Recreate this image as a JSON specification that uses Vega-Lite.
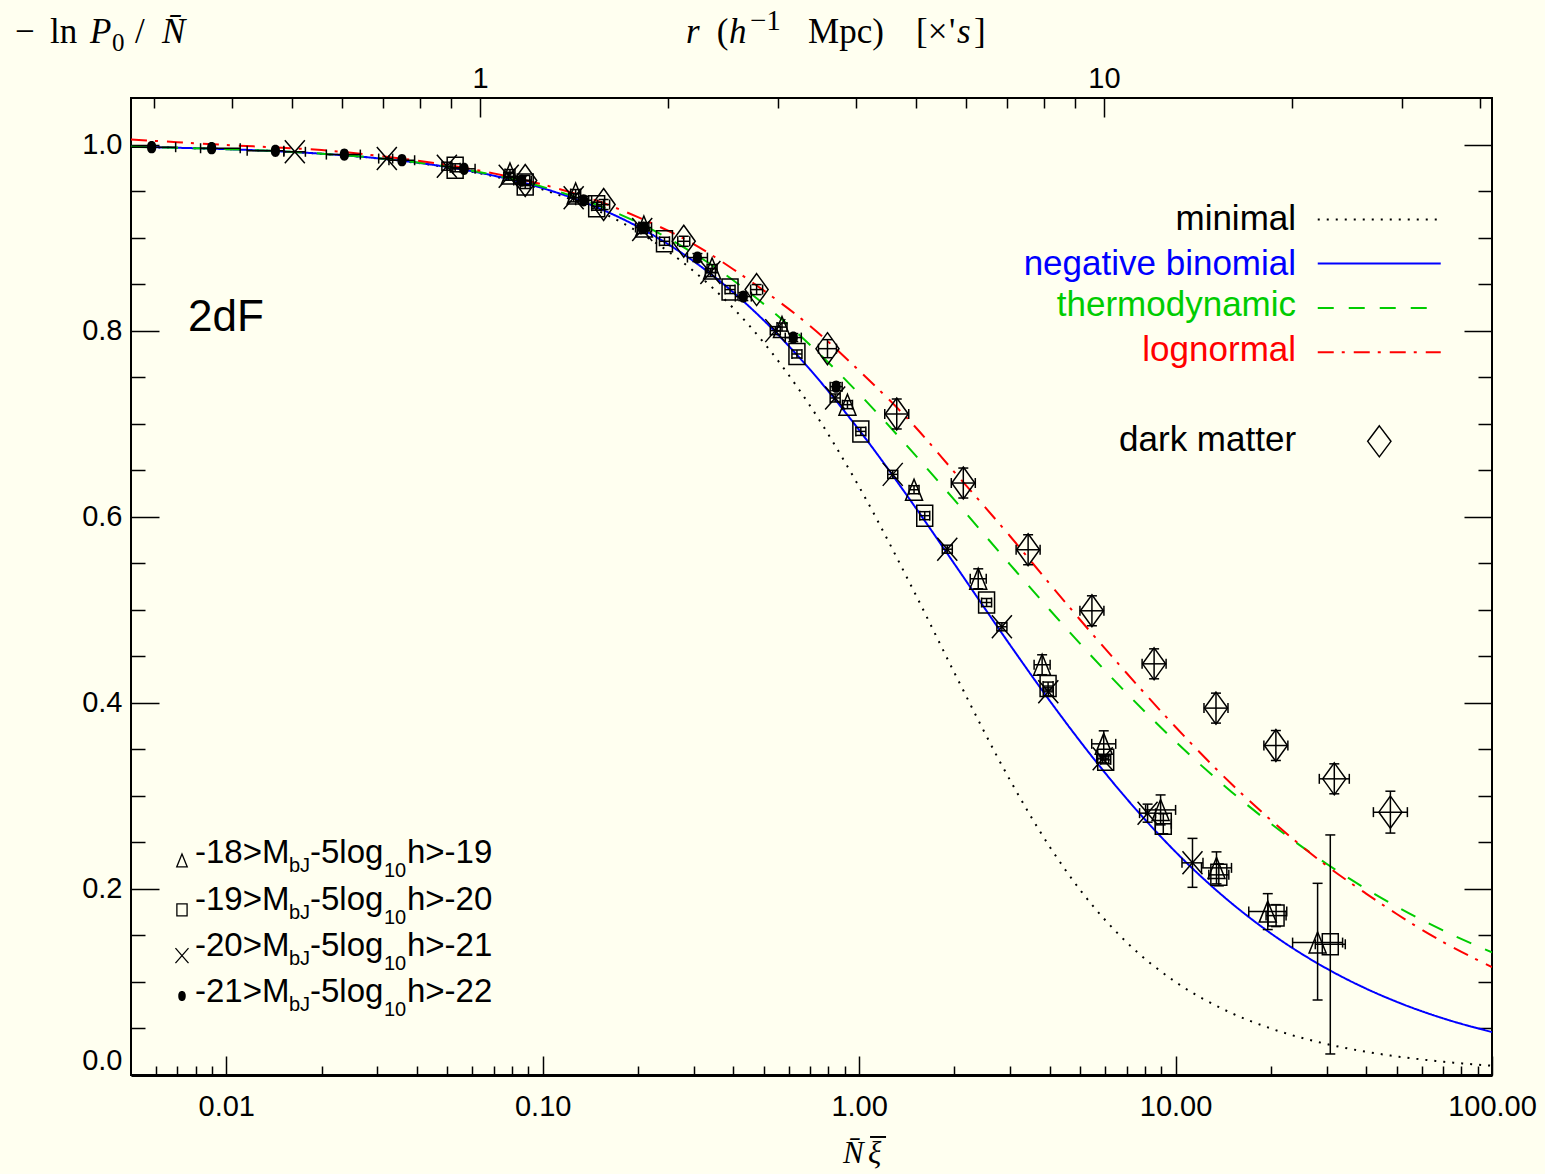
{
"$schema": "https://vega.github.io/schema/vega-lite/v6.json",
"width": 1361, "height": 977,
"autosize": {"type": "none"},
"padding": {"left": 131, "top": 98, "right": 53, "bottom": 99},
"background": "#fffff0",
"config": {"view": {"stroke": "black", "strokeWidth": 2}},
"resolve": {"scale": {"x": "independent", "y": "independent"}, "axis": {"x": "independent", "y": "independent"}},
"datasets": {
"ax": [{"v": 1}],
"cv": [
{"c":"minimal","x":0.005,"y":0.9975},{"c":"minimal","x":0.007,"y":0.99651},{"c":"minimal","x":0.01,"y":0.99502},{"c":"minimal","x":0.015,"y":0.99254},{"c":"minimal","x":0.02,"y":0.99007},{"c":"minimal","x":0.03,"y":0.98515},{"c":"minimal","x":0.05,"y":0.97541},{"c":"minimal","x":0.07,"y":0.9658},{"c":"minimal","x":0.1,"y":0.95163},{"c":"minimal","x":0.15,"y":0.92861},{"c":"minimal","x":0.2,"y":0.90635},{"c":"minimal","x":0.3,"y":0.86394},{"c":"minimal","x":0.4,"y":0.8242},{"c":"minimal","x":0.5,"y":0.78694},{"c":"minimal","x":0.7,"y":0.71916},{"c":"minimal","x":1,"y":0.63212},{"c":"minimal","x":1.5,"y":0.51791},{"c":"minimal","x":2,"y":0.43233},{"c":"minimal","x":3,"y":0.31674},{"c":"minimal","x":4,"y":0.24542},{"c":"minimal","x":5,"y":0.19865},{"c":"minimal","x":7,"y":0.14273},{"c":"minimal","x":10,"y":0.1},{"c":"minimal","x":15,"y":0.06667},{"c":"minimal","x":20,"y":0.05},{"c":"minimal","x":30,"y":0.03333},{"c":"minimal","x":40,"y":0.025},{"c":"minimal","x":50,"y":0.02},{"c":"minimal","x":70,"y":0.01429},{"c":"minimal","x":100,"y":0.01},
{"c":"negative binomial","x":0.005,"y":0.99751},{"c":"negative binomial","x":0.007,"y":0.99652},{"c":"negative binomial","x":0.01,"y":0.99503},{"c":"negative binomial","x":0.015,"y":0.99257},{"c":"negative binomial","x":0.02,"y":0.99013},{"c":"negative binomial","x":0.03,"y":0.9853},{"c":"negative binomial","x":0.05,"y":0.9758},{"c":"negative binomial","x":0.07,"y":0.96655},{"c":"negative binomial","x":0.1,"y":0.9531},{"c":"negative binomial","x":0.15,"y":0.93175},{"c":"negative binomial","x":0.2,"y":0.91161},{"c":"negative binomial","x":0.3,"y":0.87455},{"c":"negative binomial","x":0.4,"y":0.84118},{"c":"negative binomial","x":0.5,"y":0.81093},{"c":"negative binomial","x":0.7,"y":0.75804},{"c":"negative binomial","x":1,"y":0.69315},{"c":"negative binomial","x":1.5,"y":0.61086},{"c":"negative binomial","x":2,"y":0.54931},{"c":"negative binomial","x":3,"y":0.4621},{"c":"negative binomial","x":4,"y":0.40236},{"c":"negative binomial","x":5,"y":0.35835},{"c":"negative binomial","x":7,"y":0.29706},{"c":"negative binomial","x":10,"y":0.23979},{"c":"negative binomial","x":15,"y":0.18484},{"c":"negative binomial","x":20,"y":0.15223},{"c":"negative binomial","x":30,"y":0.11447},{"c":"negative binomial","x":40,"y":0.09284},{"c":"negative binomial","x":50,"y":0.07864},{"c":"negative binomial","x":70,"y":0.0609},{"c":"negative binomial","x":100,"y":0.04615},
{"c":"thermodynamic","x":0.005,"y":0.99752},{"c":"thermodynamic","x":0.007,"y":0.99652},{"c":"thermodynamic","x":0.01,"y":0.99505},{"c":"thermodynamic","x":0.015,"y":0.99261},{"c":"thermodynamic","x":0.02,"y":0.9902},{"c":"thermodynamic","x":0.03,"y":0.98543},{"c":"thermodynamic","x":0.05,"y":0.97618},{"c":"thermodynamic","x":0.07,"y":0.96725},{"c":"thermodynamic","x":0.1,"y":0.95445},{"c":"thermodynamic","x":0.15,"y":0.9345},{"c":"thermodynamic","x":0.2,"y":0.91608},{"c":"thermodynamic","x":0.3,"y":0.88304},{"c":"thermodynamic","x":0.4,"y":0.8541},{"c":"thermodynamic","x":0.5,"y":0.82843},{"c":"thermodynamic","x":0.7,"y":0.78456},{"c":"thermodynamic","x":1,"y":0.73205},{"c":"thermodynamic","x":1.5,"y":0.66667},{"c":"thermodynamic","x":2,"y":0.61803},{"c":"thermodynamic","x":3,"y":0.54858},{"c":"thermodynamic","x":4,"y":0.5},{"c":"thermodynamic","x":5,"y":0.46332},{"c":"thermodynamic","x":7,"y":0.41043},{"c":"thermodynamic","x":10,"y":0.35826},{"c":"thermodynamic","x":15,"y":0.30452},{"c":"thermodynamic","x":20,"y":0.27016},{"c":"thermodynamic","x":30,"y":0.22701},{"c":"thermodynamic","x":40,"y":0.2},{"c":"thermodynamic","x":50,"y":0.181},{"c":"thermodynamic","x":70,"y":0.15535},{"c":"thermodynamic","x":100,"y":0.13177},
{"c":"lognormal","x":0.005,"y":1.0054},{"c":"lognormal","x":0.007,"y":1.0025},{"c":"lognormal","x":0.01,"y":0.9995},{"c":"lognormal","x":0.015,"y":0.9965},{"c":"lognormal","x":0.02,"y":0.994},{"c":"lognormal","x":0.03,"y":0.988},{"c":"lognormal","x":0.05,"y":0.978},{"c":"lognormal","x":0.07,"y":0.969},{"c":"lognormal","x":0.1,"y":0.957},{"c":"lognormal","x":0.15,"y":0.939},{"c":"lognormal","x":0.2,"y":0.922},{"c":"lognormal","x":0.3,"y":0.893},{"c":"lognormal","x":0.4,"y":0.866},{"c":"lognormal","x":0.5,"y":0.843},{"c":"lognormal","x":0.7,"y":0.805},{"c":"lognormal","x":1,"y":0.757},{"c":"lognormal","x":1.5,"y":0.697},{"c":"lognormal","x":2,"y":0.648},{"c":"lognormal","x":3,"y":0.579},{"c":"lognormal","x":4,"y":0.528},{"c":"lognormal","x":5,"y":0.489},{"c":"lognormal","x":7,"y":0.432},{"c":"lognormal","x":10,"y":0.374},{"c":"lognormal","x":15,"y":0.313},{"c":"lognormal","x":20,"y":0.274},{"c":"lognormal","x":30,"y":0.225},{"c":"lognormal","x":40,"y":0.195},{"c":"lognormal","x":50,"y":0.173},{"c":"lognormal","x":70,"y":0.143},{"c":"lognormal","x":100,"y":0.116}
],
"pts": [
{"s":"dot","x":0.00581,"y":0.9971,"xl":0.0045,"xh":0.00692},
{"s":"dot","x":0.00899,"y":0.996,"xl":0.008295,"xh":0.011069},
{"s":"dot","x":0.0143,"y":0.9932,"xl":0.011644,"xh":0.015206},
{"s":"dot","x":0.02361,"y":0.9892,"xl":0.020718,"xh":0.026527},
{"s":"dot","x":0.03591,"y":0.9831,"xl":0.032669,"xh":0.03938},
{"s":"dot","x":0.05644,"y":0.9739,"xl":0.052006,"xh":0.061143},
{"s":"dot","x":0.08584,"y":0.9613,"xl":0.08098,"xh":0.09099,"yl":0.957,"yh":0.9656},
{"s":"dot","x":0.1347,"y":0.9401,"xl":0.1271,"xh":0.1428,"yl":0.9358,"yh":0.9444},
{"s":"dot","x":0.2083,"y":0.9108,"xl":0.1965,"xh":0.2208,"yl":0.9065,"yh":0.9151},
{"s":"dot","x":0.3083,"y":0.8785,"xl":0.2867,"xh":0.3316,"yl":0.8742,"yh":0.8828},
{"s":"dot","x":0.4306,"y":0.8366,"xl":0.4062,"xh":0.4564,"yl":0.8323,"yh":0.8409},
{"s":"dot","x":0.6193,"y":0.7925,"xl":0.5842,"xh":0.6565,"yl":0.7882,"yh":0.7968},
{"s":"dot","x":0.8461,"y":0.7398,"xl":0.81,"xh":0.8838,"yl":0.7355,"yh":0.7441},
{"s":"x","x":0.01647,"y":0.9922,"xl":0.015206,"xh":0.017786},
{"s":"x","x":0.03217,"y":0.9849,"xl":0.030318,"xh":0.033563},
{"s":"x","x":0.0498,"y":0.9767,"xl":0.04802,"xh":0.05165,"yl":0.9724,"yh":0.981},
{"s":"x","x":0.07811,"y":0.9659,"xl":0.07532,"xh":0.08101,"yl":0.9616,"yh":0.9702},
{"s":"x","x":0.1253,"y":0.9427,"xl":0.1208,"xh":0.1299,"yl":0.9384,"yh":0.947},
{"s":"x","x":0.2063,"y":0.9086,"xl":0.1989,"xh":0.214,"yl":0.9043,"yh":0.9129},
{"s":"x","x":0.3388,"y":0.8624,"xl":0.3267,"xh":0.3514,"yl":0.8581,"yh":0.8667},
{"s":"x","x":0.5433,"y":0.8,"xl":0.5239,"xh":0.5635,"yl":0.7957,"yh":0.8043},
{"s":"x","x":0.84,"y":0.7276,"xl":0.81,"xh":0.8712,"yl":0.7233,"yh":0.7319},
{"s":"x","x":1.2772,"y":0.6455,"xl":1.2315,"xh":1.3246,"yl":0.6412,"yh":0.6498},
{"s":"x","x":1.8992,"y":0.5651,"xl":1.8313,"xh":1.9697,"yl":0.5608,"yh":0.5694},
{"s":"x","x":2.826,"y":0.4817,"xl":2.725,"xh":2.931,"yl":0.4774,"yh":0.486},
{"s":"x","x":3.961,"y":0.4118,"xl":3.819,"xh":4.108,"yl":0.4075,"yh":0.4161},
{"s":"x","x":5.885,"y":0.3398,"xl":5.634,"xh":6.147,"yl":0.3355,"yh":0.3441},
{"s":"x","x":8.158,"y":0.2814,"xl":7.696,"xh":8.647,"yl":0.2717,"yh":0.2911},
{"s":"x","x":11.31,"y":0.228,"xl":10.478,"xh":12.208,"yl":0.2017,"yh":0.2543},
{"s":"sq","x":0.05289,"y":0.975,"xl":0.051,"xh":0.05485,"yl":0.9707,"yh":0.9793},
{"s":"sq","x":0.08806,"y":0.957,"xl":0.08491,"xh":0.09133,"yl":0.9527,"yh":0.9613},
{"s":"sq","x":0.1481,"y":0.9337,"xl":0.1428,"xh":0.1536,"yl":0.9294,"yh":0.938},
{"s":"sq","x":0.2426,"y":0.896,"xl":0.2339,"xh":0.2516,"yl":0.8917,"yh":0.9003},
{"s":"sq","x":0.3909,"y":0.8441,"xl":0.3769,"xh":0.4054,"yl":0.8398,"yh":0.8484},
{"s":"sq","x":0.636,"y":0.7749,"xl":0.6132,"xh":0.6596,"yl":0.7706,"yh":0.7792},
{"s":"sq","x":1.0125,"y":0.6917,"xl":0.9763,"xh":1.0501,"yl":0.6874,"yh":0.696},
{"s":"sq","x":1.6118,"y":0.6011,"xl":1.5541,"xh":1.6716,"yl":0.5968,"yh":0.6054},
{"s":"sq","x":2.528,"y":0.5078,"xl":2.4376,"xh":2.6218,"yl":0.5035,"yh":0.5121},
{"s":"sq","x":3.955,"y":0.418,"xl":3.8135,"xh":4.1017,"yl":0.4137,"yh":0.4223},
{"s":"sq","x":6.015,"y":0.3387,"xl":5.7998,"xh":6.2382,"yl":0.3344,"yh":0.343},
{"s":"sq","x":9.146,"y":0.27,"xl":8.628,"xh":9.695,"yl":0.2593,"yh":0.2807},
{"s":"sq","x":13.7,"y":0.2151,"xl":12.738,"xh":14.734,"yl":0.2033,"yh":0.2269},
{"s":"sq","x":20.78,"y":0.1713,"xl":19.321,"xh":22.349,"yl":0.1595,"yh":0.1831},
{"s":"sq","x":30.83,"y":0.1405,"xl":27.643,"xh":34.385,"yl":0.0226,"yh":0.258},
{"s":"tri","x":0.07881,"y":0.9688,"xl":0.07599,"xh":0.08173,"yl":0.9645,"yh":0.9731},
{"s":"tri","x":0.1271,"y":0.9473,"xl":0.12255,"xh":0.13182,"yl":0.943,"yh":0.9516},
{"s":"tri","x":0.2088,"y":0.9118,"xl":0.20133,"xh":0.21655,"yl":0.9075,"yh":0.9161},
{"s":"tri","x":0.343,"y":0.8667,"xl":0.33073,"xh":0.35573,"yl":0.8624,"yh":0.871},
{"s":"tri","x":0.5705,"y":0.8038,"xl":0.55009,"xh":0.59167,"yl":0.7995,"yh":0.8081},
{"s":"tri","x":0.9186,"y":0.7204,"xl":0.88574,"xh":0.95268,"yl":0.7161,"yh":0.7247},
{"s":"tri","x":1.4912,"y":0.629,"xl":1.43786,"xh":1.54652,"yl":0.6247,"yh":0.6333},
{"s":"tri","x":2.379,"y":0.5333,"xl":2.2443,"xh":2.5217,"yl":0.5226,"yh":0.544},
{"s":"tri","x":3.787,"y":0.4409,"xl":3.5726,"xh":4.0142,"yl":0.4302,"yh":0.4516},
{"s":"tri","x":5.929,"y":0.3559,"xl":5.4335,"xh":6.4697,"yl":0.3419,"yh":0.3699},
{"s":"tri","x":8.968,"y":0.2849,"xl":8.041,"xh":10.002,"yl":0.2688,"yh":0.301},
{"s":"tri","x":13.47,"y":0.2226,"xl":12.077,"xh":15.023,"yl":0.2054,"yh":0.2398},
{"s":"tri","x":19.56,"y":0.1756,"xl":17.035,"xh":22.459,"yl":0.1563,"yh":0.1949},
{"s":"tri","x":28.11,"y":0.1423,"xl":23.435,"xh":33.718,"yl":0.0806,"yh":0.206},
{"s":"dia","x":0.08806,"y":0.9613,"xl":0.0843,"xh":0.092,"yl":0.9559,"yh":0.9667},
{"s":"dia","x":0.1558,"y":0.9355,"xl":0.14915,"xh":0.16275,"yl":0.9301,"yh":0.9409},
{"s":"dia","x":0.2791,"y":0.896,"xl":0.26719,"xh":0.29155,"yl":0.8906,"yh":0.9014},
{"s":"dia","x":0.4743,"y":0.8441,"xl":0.45405,"xh":0.49546,"yl":0.8387,"yh":0.8495},
{"s":"dia","x":0.7943,"y":0.7806,"xl":0.74394,"xh":0.84807,"yl":0.7709,"yh":0.7903},
{"s":"dia","x":1.3149,"y":0.7104,"xl":1.205,"xh":1.4348,"yl":0.6943,"yh":0.7265},
{"s":"dia","x":2.134,"y":0.6362,"xl":1.9556,"xh":2.3286,"yl":0.6201,"yh":0.6523},
{"s":"dia","x":3.42,"y":0.5645,"xl":3.1342,"xh":3.7319,"yl":0.5484,"yh":0.5806},
{"s":"dia","x":5.441,"y":0.4989,"xl":4.9863,"xh":5.9372,"yl":0.4828,"yh":0.515},
{"s":"dia","x":8.554,"y":0.4419,"xl":7.8391,"xh":9.3341,"yl":0.4258,"yh":0.458},
{"s":"dia","x":13.42,"y":0.3943,"xl":12.298,"xh":14.644,"yl":0.3782,"yh":0.4104},
{"s":"dia","x":20.75,"y":0.3541,"xl":19.016,"xh":22.642,"yl":0.338,"yh":0.3702},
{"s":"dia","x":31.74,"y":0.3183,"xl":28.459,"xh":35.4,"yl":0.3022,"yh":0.3344},
{"s":"dia","x":47.74,"y":0.2825,"xl":42.188,"xh":54.023,"yl":0.26,"yh":0.305}
],
"leg1": [
{"c":"minimal","x2":28.14,"x3":68.87,"ly":0.9194},
{"c":"negative binomial","x2":28.14,"x3":68.87,"ly":0.872},
{"c":"thermodynamic","x2":28.14,"x3":68.87,"ly":0.8244},
{"c":"lognormal","x2":28.14,"x3":68.87,"ly":0.7767}
],
"leg2": [
{"s":"tri","a":"-18>M","b":"h>-19","sx":0.007246,"sy":0.2306,"x":0.007963,"y":0.2276},
{"s":"sq","a":"-19>M","b":"h>-20","sx":0.007246,"sy":0.1774,"x":0.007963,"y":0.1774},
{"s":"x","a":"-20>M","b":"h>-21","sx":0.007246,"sy":0.1283,"x":0.007963,"y":0.128},
{"s":"dot","a":"-21>M","b":"h>-22","sx":0.007246,"sy":0.0849,"x":0.007963,"y":0.0788}
]
},
"layer": [
{"data": {"name": "ax"}, "mark": {"type": "point", "opacity": 0},
 "encoding": {"x": {"field": "v", "type": "quantitative", "scale": {"type": "log", "domain": [0.005, 100], "nice": false},
  "axis": {"orient": "bottom", "values": [0.01, 0.1, 1, 10, 100], "format": ".2f", "ticks": false, "domain": true, "domainColor": "black", "domainWidth": 3, "labelFont": "Liberation Sans", "labelFontSize": 29, "labelColor": "black", "labelPadding": 17, "labelFlush": false, "labelOverlap": false, "grid": false, "title": null}}}},
{"data": {"name": "ax"}, "mark": {"type": "point", "opacity": 0},
 "encoding": {"x": {"field": "v", "type": "quantitative", "scale": {"type": "log", "domain": [0.005, 100], "nice": false},
  "axis": {"orient": "bottom", "values": [0.01, 0.1, 1, 10, 100], "labels": false, "domain": false, "ticks": true, "tickSize": -19, "tickWidth": 1.5, "tickColor": "black", "grid": false, "title": null}}}},
{"data": {"name": "ax"}, "mark": {"type": "point", "opacity": 0},
 "encoding": {"x": {"field": "v", "type": "quantitative", "scale": {"type": "log", "domain": [0.005, 100], "nice": false},
  "axis": {"orient": "bottom", "values": [0.006,0.007,0.008,0.009,0.02,0.03,0.04,0.05,0.06,0.07,0.08,0.09,0.2,0.3,0.4,0.5,0.6,0.7,0.8,0.9,2,3,4,5,6,7,8,9,20,30,40,50,60,70,80,90], "labels": false, "domain": false, "ticks": true, "tickSize": -9, "tickWidth": 1.5, "tickColor": "black", "grid": false, "title": null}}}},
{"data": {"name": "ax"}, "mark": {"type": "point", "opacity": 0},
 "encoding": {"x": {"field": "v", "type": "quantitative", "scale": {"type": "log", "domain": [0.2759, 41.86], "nice": false},
  "axis": {"orient": "top", "values": [1, 10], "format": "d", "ticks": false, "domain": false, "labelFont": "Liberation Sans", "labelFontSize": 29, "labelColor": "black", "labelPadding": 11, "labelBaseline": "alphabetic", "labelFlush": false, "labelOverlap": false, "grid": false, "title": null}}}},
{"data": {"name": "ax"}, "mark": {"type": "point", "opacity": 0},
 "encoding": {"x": {"field": "v", "type": "quantitative", "scale": {"type": "log", "domain": [0.2759, 41.86], "nice": false},
  "axis": {"orient": "top", "values": [1, 10], "labels": false, "domain": false, "ticks": true, "tickSize": -19, "tickWidth": 1.5, "tickColor": "black", "grid": false, "title": null}}}},
{"data": {"name": "ax"}, "mark": {"type": "point", "opacity": 0},
 "encoding": {"x": {"field": "v", "type": "quantitative", "scale": {"type": "log", "domain": [0.2759, 41.86], "nice": false},
  "axis": {"orient": "top", "values": [0.3,0.4,0.5,0.6,0.7,0.8,0.9,2,3,4,5,6,7,8,9,20,30,40], "labels": false, "domain": false, "ticks": true, "tickSize": -10, "tickWidth": 1.5, "tickColor": "black", "grid": false, "title": null}}}},
{"data": {"name": "ax"}, "mark": {"type": "point", "opacity": 0},
 "encoding": {"y": {"field": "v", "type": "quantitative", "scale": {"domain": [0, 1.05], "nice": false, "zero": false},
  "axis": {"orient": "left", "values": [0, 0.2, 0.4, 0.6, 0.8, 1], "format": ".1f", "ticks": false, "domain": false, "labelFont": "Liberation Sans", "labelFontSize": 29, "labelColor": "black", "labelPadding": 9, "labelFlush": true, "labelOverlap": false, "grid": false, "title": null}}}},
{"data": {"name": "ax"}, "mark": {"type": "point", "opacity": 0},
 "encoding": {"y": {"field": "v", "type": "quantitative", "scale": {"domain": [0, 1.05], "nice": false, "zero": false},
  "axis": {"orient": "left", "values": [0, 0.2, 0.4, 0.6, 0.8, 1], "labels": false, "domain": false, "ticks": true, "tickSize": -28, "tickWidth": 1.5, "tickColor": "black", "grid": false, "title": null}}}},
{"data": {"name": "ax"}, "mark": {"type": "point", "opacity": 0},
 "encoding": {"y": {"field": "v", "type": "quantitative", "scale": {"domain": [0, 1.05], "nice": false, "zero": false},
  "axis": {"orient": "left", "values": [0.05,0.1,0.15,0.25,0.3,0.35,0.45,0.5,0.55,0.65,0.7,0.75,0.85,0.9,0.95], "labels": false, "domain": false, "ticks": true, "tickSize": -14, "tickWidth": 1.5, "tickColor": "black", "grid": false, "title": null}}}},
{"data": {"name": "ax"}, "mark": {"type": "point", "opacity": 0},
 "encoding": {"y": {"field": "v", "type": "quantitative", "scale": {"domain": [0, 1.05], "nice": false, "zero": false},
  "axis": {"orient": "right", "values": [0, 0.2, 0.4, 0.6, 0.8, 1], "labels": false, "domain": false, "ticks": true, "tickSize": -28, "tickWidth": 1.5, "tickColor": "black", "grid": false, "title": null}}}},
{"data": {"name": "ax"}, "mark": {"type": "point", "opacity": 0},
 "encoding": {"y": {"field": "v", "type": "quantitative", "scale": {"domain": [0, 1.05], "nice": false, "zero": false},
  "axis": {"orient": "right", "values": [0.05,0.1,0.15,0.25,0.3,0.35,0.45,0.5,0.55,0.65,0.7,0.75,0.85,0.9,0.95], "labels": false, "domain": false, "ticks": true, "tickSize": -14, "tickWidth": 1.5, "tickColor": "black", "grid": false, "title": null}}}},

{"data": {"name": "cv"}, "mark": {"type": "line", "clip": true, "interpolate": "monotone", "strokeWidth": 2},
 "encoding": {
  "x": {"field": "x", "type": "quantitative", "scale": {"type": "log", "domain": [0.005, 100], "nice": false}, "axis": null},
  "y": {"field": "y", "type": "quantitative", "scale": {"domain": [0, 1.05], "nice": false, "zero": false}, "axis": null},
  "color": {"field": "c", "type": "nominal", "scale": {"domain": ["minimal", "negative binomial", "thermodynamic", "lognormal", "dark matter"], "range": ["#000000", "#0000ff", "#00cc00", "#ff0000", "#000000"]}, "legend": null},
  "strokeDash": {"field": "c", "type": "nominal", "scale": {"domain": ["minimal", "negative binomial", "thermodynamic", "lognormal"], "range": [[2, 7], [1, 0], [16, 15], [16, 8, 3, 9]]}, "legend": null}}},

{"data": {"name": "pts"}, "transform": [{"filter": "isValid(datum.xl)"}], "mark": {"type": "rule", "clip": true, "color": "black", "strokeWidth": 1.5},
 "encoding": {"x": {"field": "xl", "type": "quantitative", "scale": {"type": "log", "domain": [0.005, 100], "nice": false}, "axis": null}, "x2": {"field": "xh"},
  "y": {"field": "y", "type": "quantitative", "scale": {"domain": [0, 1.05], "nice": false, "zero": false}, "axis": null}}},
{"data": {"name": "pts"}, "transform": [{"filter": "isValid(datum.xl)"}], "mark": {"type": "tick", "orient": "vertical", "clip": true, "color": "black", "opacity": 1, "size": 10, "thickness": 1.5},
 "encoding": {"x": {"field": "xl", "type": "quantitative", "scale": {"type": "log", "domain": [0.005, 100], "nice": false}, "axis": null},
  "y": {"field": "y", "type": "quantitative", "scale": {"domain": [0, 1.05], "nice": false, "zero": false}, "axis": null}}},
{"data": {"name": "pts"}, "transform": [{"filter": "isValid(datum.xh)"}], "mark": {"type": "tick", "orient": "vertical", "clip": true, "color": "black", "opacity": 1, "size": 10, "thickness": 1.5},
 "encoding": {"x": {"field": "xh", "type": "quantitative", "scale": {"type": "log", "domain": [0.005, 100], "nice": false}, "axis": null},
  "y": {"field": "y", "type": "quantitative", "scale": {"domain": [0, 1.05], "nice": false, "zero": false}, "axis": null}}},
{"data": {"name": "pts"}, "transform": [{"filter": "isValid(datum.yl)"}], "mark": {"type": "rule", "clip": true, "color": "black", "strokeWidth": 1.5},
 "encoding": {"x": {"field": "x", "type": "quantitative", "scale": {"type": "log", "domain": [0.005, 100], "nice": false}, "axis": null},
  "y": {"field": "yl", "type": "quantitative", "scale": {"domain": [0, 1.05], "nice": false, "zero": false}, "axis": null}, "y2": {"field": "yh"}}},
{"data": {"name": "pts"}, "transform": [{"filter": "isValid(datum.yl)"}], "mark": {"type": "tick", "orient": "horizontal", "clip": true, "color": "black", "opacity": 1, "size": 10, "thickness": 1.5},
 "encoding": {"x": {"field": "x", "type": "quantitative", "scale": {"type": "log", "domain": [0.005, 100], "nice": false}, "axis": null},
  "y": {"field": "yl", "type": "quantitative", "scale": {"domain": [0, 1.05], "nice": false, "zero": false}, "axis": null}}},
{"data": {"name": "pts"}, "transform": [{"filter": "isValid(datum.yh)"}], "mark": {"type": "tick", "orient": "horizontal", "clip": true, "color": "black", "opacity": 1, "size": 10, "thickness": 1.5},
 "encoding": {"x": {"field": "x", "type": "quantitative", "scale": {"type": "log", "domain": [0.005, 100], "nice": false}, "axis": null},
  "y": {"field": "yh", "type": "quantitative", "scale": {"domain": [0, 1.05], "nice": false, "zero": false}, "axis": null}}},

{"data": {"name": "pts"}, "transform": [{"filter": "datum.s == 'tri'"}], "mark": {"type": "point", "shape": "M0,-1L0.81,1L-0.81,1Z", "filled": false, "color": "black", "opacity": 1, "strokeWidth": 1.5, "size": 441, "clip": true},
 "encoding": {"x": {"field": "x", "type": "quantitative", "scale": {"type": "log", "domain": [0.005, 100], "nice": false}, "axis": null},
  "y": {"field": "y", "type": "quantitative", "scale": {"domain": [0, 1.05], "nice": false, "zero": false}, "axis": null}}},
{"data": {"name": "pts"}, "transform": [{"filter": "datum.s == 'sq'"}], "mark": {"type": "point", "shape": "M-0.76,-1L0.76,-1L0.76,1L-0.76,1Z", "filled": false, "color": "black", "opacity": 1, "strokeWidth": 1.5, "size": 441, "clip": true},
 "encoding": {"x": {"field": "x", "type": "quantitative", "scale": {"type": "log", "domain": [0.005, 100], "nice": false}, "axis": null},
  "y": {"field": "y", "type": "quantitative", "scale": {"domain": [0, 1.05], "nice": false, "zero": false}, "axis": null}}},
{"data": {"name": "pts"}, "transform": [{"filter": "datum.s == 'x'"}], "mark": {"type": "point", "shape": "M-0.87,-1L0.87,1M0.87,-1L-0.87,1", "filled": false, "color": "black", "opacity": 1, "strokeWidth": 1.5, "size": 529, "clip": true},
 "encoding": {"x": {"field": "x", "type": "quantitative", "scale": {"type": "log", "domain": [0.005, 100], "nice": false}, "axis": null},
  "y": {"field": "y", "type": "quantitative", "scale": {"domain": [0, 1.05], "nice": false, "zero": false}, "axis": null}}},
{"data": {"name": "pts"}, "transform": [{"filter": "datum.s == 'dot'"}], "mark": {"type": "point", "shape": "M0,-1C0.55,-1,0.75,-0.55,0.75,0C0.75,0.55,0.55,1,0,1C-0.55,1,-0.75,0.55,-0.75,0C-0.75,-0.55,-0.55,-1,0,-1Z", "filled": true, "color": "black", "opacity": 1, "size": 150, "clip": true},
 "encoding": {"x": {"field": "x", "type": "quantitative", "scale": {"type": "log", "domain": [0.005, 100], "nice": false}, "axis": null},
  "y": {"field": "y", "type": "quantitative", "scale": {"domain": [0, 1.05], "nice": false, "zero": false}, "axis": null}}},
{"data": {"name": "pts"}, "transform": [{"filter": "datum.s == 'dia'"}], "mark": {"type": "point", "shape": "M0,-1L0.72,0L0,1L-0.72,0Z", "filled": false, "color": "black", "opacity": 1, "strokeWidth": 1.5, "size": 1024, "clip": true},
 "encoding": {"x": {"field": "x", "type": "quantitative", "scale": {"type": "log", "domain": [0.005, 100], "nice": false}, "axis": null},
  "y": {"field": "y", "type": "quantitative", "scale": {"domain": [0, 1.05], "nice": false, "zero": false}, "axis": null}}},

{"data": {"name": "leg1"}, "mark": {"type": "rule", "strokeWidth": 2},
 "encoding": {"x": {"field": "x2", "type": "quantitative", "scale": {"type": "log", "domain": [0.005, 100], "nice": false}, "axis": null}, "x2": {"field": "x3"},
  "y": {"field": "ly", "type": "quantitative", "scale": {"domain": [0, 1.05], "nice": false, "zero": false}, "axis": null},
  "color": {"field": "c", "type": "nominal", "scale": {"domain": ["minimal", "negative binomial", "thermodynamic", "lognormal", "dark matter"], "range": ["#000000", "#0000ff", "#00cc00", "#ff0000", "#000000"]}, "legend": null},
  "strokeDash": {"field": "c", "type": "nominal", "scale": {"domain": ["minimal", "negative binomial", "thermodynamic", "lognormal"], "range": [[2, 7], [1, 0], [16, 15], [16, 8, 3, 9]]}, "legend": null}}},
{"data": {"values": [
  {"c":"minimal","x":24.03,"y":0.9086},{"c":"negative binomial","x":24.03,"y":0.8602},{"c":"thermodynamic","x":24.03,"y":0.8154},{"c":"lognormal","x":24.03,"y":0.767},{"c":"dark matter","x":24.03,"y":0.6702}]},
 "mark": {"type": "text", "align": "right", "baseline": "alphabetic", "font": "Liberation Sans", "fontSize": 35},
 "encoding": {"x": {"field": "x", "type": "quantitative", "scale": {"type": "log", "domain": [0.005, 100], "nice": false}, "axis": null},
  "y": {"field": "y", "type": "quantitative", "scale": {"domain": [0, 1.05], "nice": false, "zero": false}, "axis": null},
  "text": {"field": "c"},
  "color": {"field": "c", "type": "nominal", "scale": {"domain": ["minimal", "negative binomial", "thermodynamic", "lognormal", "dark matter"], "range": ["#000000", "#0000ff", "#00cc00", "#ff0000", "#000000"]}, "legend": null}}},
{"data": {"values": [{"x": 44.05, "y": 0.681}]}, "mark": {"type": "point", "shape": "M0,-1L0.75,0L0,1L-0.75,0Z", "filled": false, "color": "black", "opacity": 1, "strokeWidth": 1.5, "size": 961},
 "encoding": {"x": {"field": "x", "type": "quantitative", "scale": {"type": "log", "domain": [0.005, 100], "nice": false}, "axis": null},
  "y": {"field": "y", "type": "quantitative", "scale": {"domain": [0, 1.05], "nice": false, "zero": false}, "axis": null}}},

{"data": {"name": "leg2"}, "transform": [{"filter": "datum.s == 'tri'"}], "mark": {"type": "point", "shape": "M0,-1L0.81,1L-0.81,1Z", "filled": false, "color": "black", "opacity": 1, "strokeWidth": 1.3, "size": 169},
 "encoding": {"x": {"field": "sx", "type": "quantitative", "scale": {"type": "log", "domain": [0.005, 100], "nice": false}, "axis": null},
  "y": {"field": "sy", "type": "quantitative", "scale": {"domain": [0, 1.05], "nice": false, "zero": false}, "axis": null}}},
{"data": {"name": "leg2"}, "transform": [{"filter": "datum.s == 'sq'"}], "mark": {"type": "point", "shape": "M-0.85,-1L0.85,-1L0.85,1L-0.85,1Z", "filled": false, "color": "black", "opacity": 1, "strokeWidth": 1.3, "size": 144},
 "encoding": {"x": {"field": "sx", "type": "quantitative", "scale": {"type": "log", "domain": [0.005, 100], "nice": false}, "axis": null},
  "y": {"field": "sy", "type": "quantitative", "scale": {"domain": [0, 1.05], "nice": false, "zero": false}, "axis": null}}},
{"data": {"name": "leg2"}, "transform": [{"filter": "datum.s == 'x'"}], "mark": {"type": "point", "shape": "M-0.87,-1L0.87,1M0.87,-1L-0.87,1", "filled": false, "color": "black", "opacity": 1, "strokeWidth": 1.3, "size": 225},
 "encoding": {"x": {"field": "sx", "type": "quantitative", "scale": {"type": "log", "domain": [0.005, 100], "nice": false}, "axis": null},
  "y": {"field": "sy", "type": "quantitative", "scale": {"domain": [0, 1.05], "nice": false, "zero": false}, "axis": null}}},
{"data": {"name": "leg2"}, "transform": [{"filter": "datum.s == 'dot'"}], "mark": {"type": "point", "shape": "M0,-1C0.55,-1,0.75,-0.55,0.75,0C0.75,0.55,0.55,1,0,1C-0.55,1,-0.75,0.55,-0.75,0C-0.75,-0.55,-0.55,-1,0,-1Z", "filled": true, "color": "black", "opacity": 1, "size": 100},
 "encoding": {"x": {"field": "sx", "type": "quantitative", "scale": {"type": "log", "domain": [0.005, 100], "nice": false}, "axis": null},
  "y": {"field": "sy", "type": "quantitative", "scale": {"domain": [0, 1.05], "nice": false, "zero": false}, "axis": null}}},
{"data": {"name": "leg2"}, "mark": {"type": "text", "align": "left", "baseline": "alphabetic", "font": "Liberation Sans", "fontSize": 33, "color": "black"},
 "encoding": {"x": {"field": "x", "type": "quantitative", "scale": {"type": "log", "domain": [0.005, 100], "nice": false}, "axis": null},
  "y": {"field": "y", "type": "quantitative", "scale": {"domain": [0, 1.05], "nice": false, "zero": false}, "axis": null}, "text": {"field": "a"}}},
{"data": {"name": "leg2"}, "mark": {"type": "text", "align": "left", "baseline": "alphabetic", "font": "Liberation Sans", "fontSize": 20, "color": "black", "dx": 94, "dy": 9},
 "encoding": {"x": {"field": "x", "type": "quantitative", "scale": {"type": "log", "domain": [0.005, 100], "nice": false}, "axis": null},
  "y": {"field": "y", "type": "quantitative", "scale": {"domain": [0, 1.05], "nice": false, "zero": false}, "axis": null}, "text": {"value": "bJ"}}},
{"data": {"name": "leg2"}, "mark": {"type": "text", "align": "left", "baseline": "alphabetic", "font": "Liberation Sans", "fontSize": 33, "color": "black", "dx": 115},
 "encoding": {"x": {"field": "x", "type": "quantitative", "scale": {"type": "log", "domain": [0.005, 100], "nice": false}, "axis": null},
  "y": {"field": "y", "type": "quantitative", "scale": {"domain": [0, 1.05], "nice": false, "zero": false}, "axis": null}, "text": {"value": "-5log"}}},
{"data": {"name": "leg2"}, "mark": {"type": "text", "align": "left", "baseline": "alphabetic", "font": "Liberation Sans", "fontSize": 20, "color": "black", "dx": 189, "dy": 14},
 "encoding": {"x": {"field": "x", "type": "quantitative", "scale": {"type": "log", "domain": [0.005, 100], "nice": false}, "axis": null},
  "y": {"field": "y", "type": "quantitative", "scale": {"domain": [0, 1.05], "nice": false, "zero": false}, "axis": null}, "text": {"value": "10"}}},
{"data": {"name": "leg2"}, "mark": {"type": "text", "align": "left", "baseline": "alphabetic", "font": "Liberation Sans", "fontSize": 33, "color": "black", "dx": 212},
 "encoding": {"x": {"field": "x", "type": "quantitative", "scale": {"type": "log", "domain": [0.005, 100], "nice": false}, "axis": null},
  "y": {"field": "y", "type": "quantitative", "scale": {"domain": [0, 1.05], "nice": false, "zero": false}, "axis": null}, "text": {"field": "b"}}},

{"data": {"values": [{"t": "2dF", "x": 0.007569, "y": 0.8}]}, "mark": {"type": "text", "align": "left", "baseline": "alphabetic", "font": "Liberation Sans", "fontSize": 44, "color": "black"},
 "encoding": {"x": {"field": "x", "type": "quantitative", "scale": {"type": "log", "domain": [0.005, 100], "nice": false}, "axis": null},
  "y": {"field": "y", "type": "quantitative", "scale": {"domain": [0, 1.05], "nice": false, "zero": false}, "axis": null}, "text": {"field": "t"}}},

{"data": {"values": [
  {"t": "−", "x": 0.00215, "y": 1.1094}, {"t": "ln", "x": 0.002773, "y": 1.1094}, {"t": "/", "x": 0.005149, "y": 1.1094},
  {"t": "(", "x": 0.355, "y": 1.1094}, {"t": "Mpc)", "x": 0.6894, "y": 1.1094}, {"t": "[×", "x": 1.5127, "y": 1.1094}, {"t": "'", "x": 1.9235, "y": 1.1094}, {"t": "]", "x": 2.3076, "y": 1.1094}]},
 "mark": {"type": "text", "align": "left", "baseline": "alphabetic", "font": "Liberation Serif", "fontSize": 35, "color": "black", "clip": false},
 "encoding": {"x": {"field": "x", "type": "quantitative", "scale": {"type": "log", "domain": [0.005, 100], "nice": false}, "axis": null},
  "y": {"field": "y", "type": "quantitative", "scale": {"domain": [0, 1.05], "nice": false, "zero": false}, "axis": null}, "text": {"field": "t"}}},
{"data": {"values": [
  {"t": "P", "x": 0.003711, "y": 1.1094}, {"t": "N̄", "x": 0.006266, "y": 1.1094},
  {"t": "r", "x": 0.2838, "y": 1.1094}, {"t": "h", "x": 0.3879, "y": 1.1094}, {"t": "s", "x": 2.0382, "y": 1.1094}]},
 "mark": {"type": "text", "align": "left", "baseline": "alphabetic", "font": "Liberation Serif", "fontSize": 35, "fontStyle": "italic", "color": "black", "clip": false},
 "encoding": {"x": {"field": "x", "type": "quantitative", "scale": {"type": "log", "domain": [0.005, 100], "nice": false}, "axis": null},
  "y": {"field": "y", "type": "quantitative", "scale": {"domain": [0, 1.05], "nice": false, "zero": false}, "axis": null}, "text": {"field": "t"}}},
{"data": {"values": [{"t": "0", "x": 0.004355, "y": 1.1}]},
 "mark": {"type": "text", "align": "left", "baseline": "alphabetic", "font": "Liberation Serif", "fontSize": 25, "color": "black", "clip": false},
 "encoding": {"x": {"field": "x", "type": "quantitative", "scale": {"type": "log", "domain": [0.005, 100], "nice": false}, "axis": null},
  "y": {"field": "y", "type": "quantitative", "scale": {"domain": [0, 1.05], "nice": false, "zero": false}, "axis": null}, "text": {"field": "t"}}},
{"data": {"values": [{"t": "−1", "x": 0.4519, "y": 1.1231}]},
 "mark": {"type": "text", "align": "left", "baseline": "alphabetic", "font": "Liberation Serif", "fontSize": 29, "color": "black", "clip": false},
 "encoding": {"x": {"field": "x", "type": "quantitative", "scale": {"type": "log", "domain": [0.005, 100], "nice": false}, "axis": null},
  "y": {"field": "y", "type": "quantitative", "scale": {"domain": [0, 1.05], "nice": false, "zero": false}, "axis": null}, "text": {"field": "t"}}},
{"data": {"values": [
  {"t": "N̄", "x": 0.8894, "y": -0.0946}, {"t": "ξ", "x": 1.0668, "y": -0.0946}]},
 "mark": {"type": "text", "align": "left", "baseline": "alphabetic", "font": "Liberation Serif", "fontSize": 31, "fontStyle": "italic", "color": "black", "clip": false},
 "encoding": {"x": {"field": "x", "type": "quantitative", "scale": {"type": "log", "domain": [0.005, 100], "nice": false}, "axis": null},
  "y": {"field": "y", "type": "quantitative", "scale": {"domain": [0, 1.05], "nice": false, "zero": false}, "axis": null}, "text": {"field": "t"}}},
{"data": {"values": [{"x": 1.0826, "x2": 1.2163, "y": -0.0666}]},
 "mark": {"type": "rule", "color": "black", "strokeWidth": 2, "clip": false},
 "encoding": {"x": {"field": "x", "type": "quantitative", "scale": {"type": "log", "domain": [0.005, 100], "nice": false}, "axis": null}, "x2": {"field": "x2"},
  "y": {"field": "y", "type": "quantitative", "scale": {"domain": [0, 1.05], "nice": false, "zero": false}, "axis": null}}}
]
}
